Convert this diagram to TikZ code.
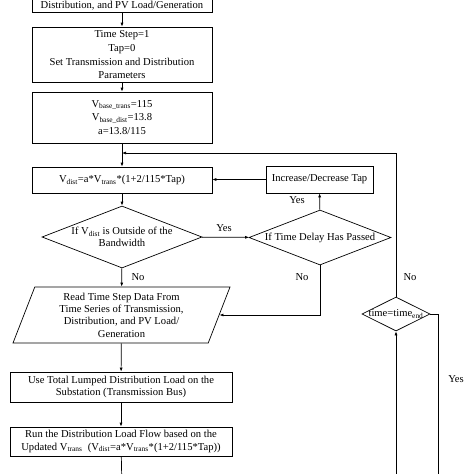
\documentclass[tikz,border=0pt]{standalone}
\usepackage{fontspec}
\setmainfont{Liberation Serif}
\usetikzlibrary{shapes.geometric,arrows.meta}

\begin{document}
\begin{tikzpicture}[x=1pt, y=-1pt, line width=0.7pt,
    font=\fontsize{10.6}{12.4}\selectfont,
    >={Latex[length=4pt,width=3pt]},
    box/.style={draw, rectangle, minimum width=180pt, align=center, inner sep=2pt},
    widebox/.style={box, minimum width=222pt},
    decision/.style={draw, diamond, inner sep=0pt},
    io/.style={draw, trapezium, trapezium left angle=64, trapezium right angle=116,
        trapezium stretches body, minimum width=217pt, minimum height=56pt,
        inner sep=0pt, align=center}]
    \useasboundingbox (0,0) rectangle (474,474);
    \clip (0,0) rectangle (474,474);

    % Main column
    \node[box, anchor=south, text height=30pt, inner ysep=2.5pt] (box1) at (122,13) {Distribution, and PV Load/Generation};
    \node[box, minimum height=55pt] (box2) at (122,54.5) {Time Step=1\\[1.5pt] Tap=0\\[1.5pt] Set Transmission and Distribution\\ Parameters};
    \node[box, minimum height=51pt] (box3) at (122,117.5) {V\textsubscript{base\_trans}=115\\[1.5pt] V\textsubscript{base\_dist}=13.8\\[1.5pt] a=13.8/115};
    \node[box, minimum height=26pt] (box4) at (122,180) {V\textsubscript{dist}=a*V\textsubscript{trans}*(1+2/115*Tap)};
    \node[decision, minimum width=160pt, minimum height=62pt,
        label={[align=center]center:If V\textsubscript{dist} is Outside of the\\ Bandwidth}] (d1) at (122,237) {};
    \node[io] (io) at (121.5,315) {Read Time Step Data From\\ Time Series of Transmission,\\ Distribution, and PV Load/\\ Generation};
    \node[widebox, minimum height=30pt] (box6) at (121,387) {Use Total Lumped Distribution Load on the\\ Substation (Transmission Bus)};
    \node[widebox, minimum height=29pt] (box7) at (121,441.5) {Run the Distribution Load Flow based on the\\ Updated V\textsubscript{trans}~~(V\textsubscript{dist}=a*V\textsubscript{trans}*(1+2/115*Tap))};

    % Tap control
    \node[draw, rectangle, minimum width=107pt, minimum height=27pt] (tap) at (319.5,179.5) {Increase/Decrease Tap};
    \node[decision, minimum width=142pt, minimum height=55pt,
        label={center:If Time Delay Has Passed}] (d2) at (320,237.5) {};

    % Time loop
    \node[decision, minimum width=68pt, minimum height=34pt,
        label={center:time=time\textsubscript{end}}] (d3) at (396,314) {};
    \coordinate (join) at (122,153);
    \coordinate (out1) at (122,490);
    \coordinate (out2) at (438,490);
    \coordinate (out3) at (396,490);

    % Labels
    \node (yes1) at (224,228) {Yes};
    \node (yes2) at (297,200) {Yes};
    \node (no1) at (138,277) {No};
    \node (no2) at (302,277) {No};
    \node (no3) at (410,277) {No};
    \node (yes3) at (456,379) {Yes};

    % Arrows down the main column
    \draw[->] (box1) -- (box2);
    \draw[->] (box2) -- (box3);
    \draw[->] (box3) -- (box4);
    \draw[->] (box4) -- (d1);
    \draw[->] (d1) -- (io);
    \draw[->] (io) -- (box6);
    \draw[->] (box6) -- (box7);
    \draw (box7) -- (out1);

    % Arrows of the tap loop
    \draw[->] (d1) -- (d2);
    \draw[->] (d2) -- (tap);
    \draw[->] (tap.west) -- (tap.west -| box4.east);
    \draw[->] (d2.south) |- (io.east);

    % Arrows of the time loop
    \draw[->] (d3.north) |- (join);
    \draw (d3.east) -| (out2);
    \draw[->] (out3) -- (d3.south);
\end{tikzpicture}
\end{document}
